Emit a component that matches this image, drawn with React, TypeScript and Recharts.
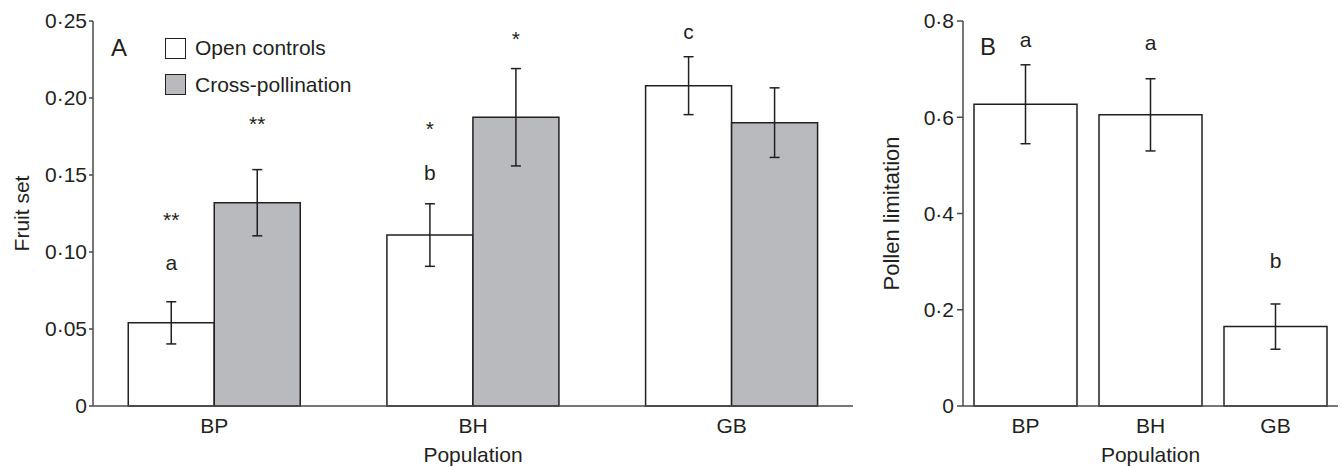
import React from 'react';
import { BarChart, Bar, XAxis, YAxis, ErrorBar, LabelList, Legend, Label, ReferenceLine } from 'recharts';

// ---------- data ----------
const populations = ['BP', 'BH', 'GB'];

// Panel A – fruit set
const openControls = [0.054, 0.111, 0.208];
const openErr = [0.0137, 0.0203, 0.0188];
const crossPollination = [0.132, 0.1875, 0.184];
const crossErr = [0.0215, 0.0316, 0.0226];
const openLetters = ['a', 'b', 'c'];
const openLetterY = [0.0883, 0.1468, 0.2381];
const openStars = ['**', '*', ''];
const openStarY = [0.1162, 0.1755, 0];
const crossStars = ['**', '*', ''];
const crossStarY = [0.1788, 0.234, 0];
const fruitTicks = [0, 0.05, 0.1, 0.15, 0.2, 0.25];
const fruitTickLabels = ['0', '0\u00B705', '0\u00B710', '0\u00B715', '0\u00B720', '0\u00B725'];
const legendOrder = ['Open controls', 'Cross-pollination'];

// Panel B – pollen limitation
const pollenLimitation = [0.627, 0.605, 0.165];
const pollenErr = [0.082, 0.075, 0.047];
const pollenLetters = ['a', 'a', 'b'];
const pollenLetterY = [0.7466, 0.7397, 0.286];
const pollenTicks = [0, 0.2, 0.4, 0.6, 0.8];
const pollenTickLabels = ['0', '0\u00B72', '0\u00B74', '0\u00B76', '0\u00B78'];

const dataA = populations.map((p, i) => ({
  cat: p,
  open: openControls[i],
  openErr: openErr[i],
  cross: crossPollination[i],
  crossErr: crossErr[i],
}));
const dataB = populations.map((p, i) => ({ cat: p, pl: pollenLimitation[i], plErr: pollenErr[i] }));

// ---------- styles ----------
const FONT = 'Liberation Sans, Arial, Helvetica, sans-serif';
const TXT = '#231f20';
const FRAME = '#4a4a4a';
const BAR_STROKE = '#231f20';
const GREY = '#b9babd';
const FS = 21;
const PANEL_FS = 24;

const tickStyle = { fontSize: FS, fill: TXT, fontFamily: FONT };
const labelStyle = { fontSize: FS, fill: TXT, fontFamily: FONT };
const panelStyle = { fontSize: PANEL_FS, fill: TXT, fontFamily: FONT };

const makeAnnot = (texts: string[][], ys: number[][]) => (props: any) => {
  const vb = props.viewBox && props.viewBox.x != null ? props.viewBox : props;
  const x = Number(vb.x), y = Number(vb.y), w = Number(vb.width), h = Number(vb.height);
  const idx = props.index;
  const value = Number(props.value);
  const top = Math.min(y, y + h);
  const bottom = Math.max(y, y + h);
  const ppu = (bottom - top) / value;
  const cx = x + w / 2;
  return (
    <g>
      {texts.map((t, k) =>
        t[idx] ? (
          <text key={k} x={cx} y={bottom - ys[k][idx] * ppu} textAnchor="middle" fontSize={FS} fill={TXT} fontFamily={FONT}>
            {t[idx]}
          </text>
        ) : null
      )}
    </g>
  );
};

const LegendContent = (props: any) => {
  const payload = [...(props.payload || [])].sort(
    (a: any, b: any) => legendOrder.indexOf(a.value) - legendOrder.indexOf(b.value)
  );
  return (
    <div style={{ fontFamily: FONT, fontSize: FS, color: TXT }}>
      {payload.map((p: any, i: number) => (
        <div key={i} style={{ display: 'flex', alignItems: 'center', height: 22, marginBottom: 14.6 }}>
          <div
            style={{
              width: 19,
              height: 19,
              border: `1.5px solid ${BAR_STROKE}`,
              background: p.color,
              marginRight: 9,
            }}
          />
          <span style={{ lineHeight: '22px' }}>{p.value}</span>
        </div>
      ))}
    </div>
  );
};

export default function App() {
  return (
    <div style={{ position: 'absolute', left: 0, top: 0, width: 1342, height: 467, background: '#fff' }}>
      <div style={{ position: 'absolute', left: 0, top: 0 }}>
        <BarChart
          width={870}
          height={467}
          data={dataA}
          margin={{ top: 21, right: 17, bottom: 0, left: 0 }}
          barCategoryGap={43.25}
          barGap={0}
        >
          <XAxis
            dataKey="cat"
            height={61}
            padding={{ left: -8, right: -8 }}
            tickLine={false}
            tickSize={10}
            tickMargin={2}
            tick={tickStyle}
            axisLine={{ stroke: FRAME, strokeWidth: 1.5 }}
          >
            <Label value="Population" position="insideBottom" offset={5} style={labelStyle} />
          </XAxis>
          <XAxis
            xAxisId="top"
            orientation="top"
            dataKey="cat"
            height={0}
            tick={false}
            tickLine={false}
            axisLine={{ stroke: FRAME, strokeWidth: 1.5 }}
          />
          <YAxis
            width={93}
            domain={[0, 0.25]}
            ticks={fruitTicks}
            interval={0}
            tickSize={4}
            tickMargin={2}
            tick={tickStyle}
            tickFormatter={(v: number) => fruitTickLabels[fruitTicks.indexOf(v)] ?? String(v)}
            tickLine={{ stroke: FRAME, strokeWidth: 1.5 }}
            axisLine={{ stroke: FRAME, strokeWidth: 1.5 }}
          >
            <Label
              value="Fruit set"
              angle={-90}
              position="insideLeft"
              offset={22}
              style={{ ...labelStyle, textAnchor: 'middle' }}
            />
          </YAxis>
          <YAxis
            yAxisId="right"
            orientation="right"
            width={0}
            domain={[0, 1]}
            tick={false}
            tickLine={false}
            axisLine={{ stroke: FRAME, strokeWidth: 1.5 }}
          />
          <ReferenceLine
            y={0.25}
            stroke="none"
            label={{
              value: 'A',
              position: 'insideTopLeft',
              offset: 18,
              fontSize: PANEL_FS,
              fill: TXT,
              fontFamily: FONT,
              style: panelStyle,
            }}
          />
          <Legend
            layout="horizontal"
            verticalAlign="middle"
            align="center"
            itemSorter={null as any}
            content={<LegendContent />}
            wrapperStyle={{ left: 165, top: 37, width: 'auto' }}
          />
          <Bar dataKey="open" name="Open controls" fill="#ffffff" stroke={BAR_STROKE} strokeWidth={1.5} isAnimationActive={false}>
            <ErrorBar dataKey="openErr" width={5} stroke={BAR_STROKE} strokeWidth={1.5} direction="y" />
            <LabelList dataKey="open" content={makeAnnot([openLetters, openStars], [openLetterY, openStarY])} />
          </Bar>
          <Bar dataKey="cross" name="Cross-pollination" fill={GREY} stroke={BAR_STROKE} strokeWidth={1.5} isAnimationActive={false}>
            <ErrorBar dataKey="crossErr" width={5} stroke={BAR_STROKE} strokeWidth={1.5} direction="y" />
            <LabelList dataKey="cross" content={makeAnnot([crossStars], [crossStarY])} />
          </Bar>
        </BarChart>
      </div>
      <div style={{ position: 'absolute', left: 870, top: 0 }}>
        <BarChart
          width={472}
          height={467}
          data={dataB}
          margin={{ top: 21, right: 4, bottom: 0, left: 0 }}
          barCategoryGap={11}
        >
          <XAxis
            dataKey="cat"
            height={61}
            tickLine={false}
            tickSize={10}
            tickMargin={2}
            tick={tickStyle}
            axisLine={{ stroke: FRAME, strokeWidth: 1.5 }}
          >
            <Label value="Population" position="insideBottom" offset={5} style={labelStyle} />
          </XAxis>
          <XAxis
            xAxisId="top"
            orientation="top"
            dataKey="cat"
            height={0}
            tick={false}
            tickLine={false}
            axisLine={{ stroke: FRAME, strokeWidth: 1.5 }}
          />
          <YAxis
            width={93}
            domain={[0, 0.8]}
            ticks={pollenTicks}
            interval={0}
            tickSize={6}
            tickMargin={3}
            tick={tickStyle}
            tickFormatter={(v: number) => pollenTickLabels[pollenTicks.indexOf(v)] ?? String(v)}
            tickLine={{ stroke: FRAME, strokeWidth: 1.5 }}
            axisLine={{ stroke: FRAME, strokeWidth: 1.5 }}
          >
            <Label
              value="Pollen limitation"
              angle={-90}
              position="insideLeft"
              offset={21}
              style={{ ...labelStyle, fontSize: 22, textAnchor: 'middle' }}
            />
          </YAxis>
          <YAxis
            yAxisId="right"
            orientation="right"
            width={0}
            domain={[0, 1]}
            tick={false}
            tickLine={false}
            axisLine={{ stroke: FRAME, strokeWidth: 1.5 }}
          />
          <ReferenceLine
            y={0.8}
            stroke="none"
            label={{
              value: 'B',
              position: 'insideTopLeft',
              offset: 17,
              fontSize: PANEL_FS,
              fill: TXT,
              fontFamily: FONT,
              style: panelStyle,
            }}
          />
          <Bar dataKey="pl" name="Pollen limitation" fill="#ffffff" stroke={BAR_STROKE} strokeWidth={1.5} isAnimationActive={false}>
            <ErrorBar dataKey="plErr" width={5} stroke={BAR_STROKE} strokeWidth={1.5} direction="y" />
            <LabelList dataKey="pl" content={makeAnnot([pollenLetters], [pollenLetterY])} />
          </Bar>
        </BarChart>
      </div>
    </div>
  );
}
